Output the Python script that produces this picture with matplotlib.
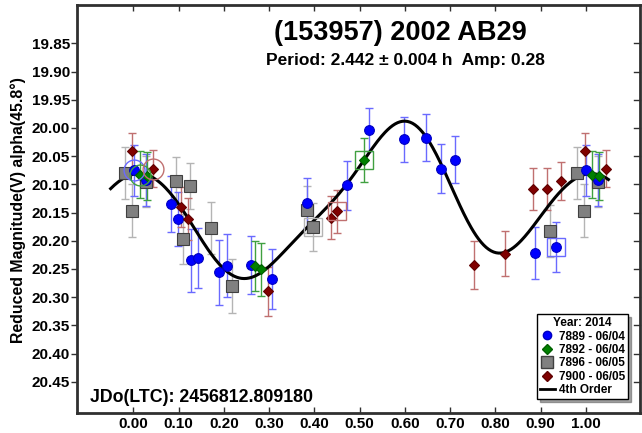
import numpy as np
import matplotlib
matplotlib.use("Agg")
import matplotlib.pyplot as plt
from matplotlib.lines import Line2D

plt.rcParams['font.family'] = ['Liberation Sans', 'DejaVu Sans']
plt.rcParams['font.weight'] = 'bold'

# session 7889 - 06/04 (blue)
ph_7889 = [0.001, 0.028, 0.083, 0.099, 0.128, 0.144, 0.190, 0.207, 0.260, 0.307,
           0.384, 0.473, 0.520, 0.598, 0.648, 0.679, 0.712, 0.888, 0.934]
mag_7889 = [20.075, 20.093, 20.135, 20.162, 20.235, 20.231, 20.256, 20.244, 20.243, 20.268,
            20.133, 20.102, 20.003, 20.020, 20.017, 20.072, 20.056, 20.222, 20.211]
err_7889 = [0.045, 0.046, 0.049, 0.048, 0.056, 0.053, 0.058, 0.056, 0.052, 0.053,
            0.044, 0.044, 0.038, 0.040, 0.041, 0.043, 0.041, 0.046, 0.044]

# session 7892 - 06/04 (green)
ph_7892 = [0.014, 0.030, 0.268, 0.282, 0.509]
mag_7892 = [20.083, 20.085, 20.245, 20.251, 20.056]
err_7892 = [0.042, 0.042, 0.044, 0.047, 0.039]

# session 7896 - 06/05 (gray)
ph_7896 = [0.028, 0.094, 0.109, 0.126, 0.172, 0.218, 0.383, 0.398, 0.920, 0.981, 0.997]
mag_7896 = [20.095, 20.094, 20.197, 20.103, 20.177, 20.281, 20.145, 20.176, 20.183, 20.080, 20.147]
err_7896 = [0.045, 0.042, 0.045, 0.041, 0.046, 0.048, 0.042, 0.042, 0.046, 0.046, 0.047]

# session 7900 - 06/05 (dark red)
ph_7900 = [0.044, 0.106, 0.122, 0.297, 0.436, 0.451, 0.752, 0.822, 0.883, 0.914, 0.945, 0.998]
mag_7900 = [20.072, 20.140, 20.162, 20.290, 20.159, 20.148, 20.243, 20.223, 20.108, 20.108, 20.094, 20.041]
err_7900 = [0.033, 0.036, 0.037, 0.044, 0.038, 0.038, 0.043, 0.040, 0.037, 0.037, 0.034, 0.032]

x_ticks = [0.0, 0.1, 0.2, 0.3, 0.4, 0.5, 0.6, 0.7, 0.8, 0.9, 1.0]
y_ticks = [19.85, 19.90, 19.95, 20.00, 20.05, 20.10, 20.15, 20.20, 20.25, 20.30, 20.35, 20.40, 20.45]

sessions = [
    # label, phases, mags, errs, marker, face, edge, bar colour, size, first/last marker phases
    ('7896 - 06/05', ph_7896, mag_7896, err_7896, 's', '#808080', '#404040', '#b4b4b4', 8, None, 0.398),
    ('7889 - 06/04', ph_7889, mag_7889, err_7889, 'o', '#0000ff', '#0000c0', '#6a6aff', 7, 0.001, 0.934),
    ('7892 - 06/04', ph_7892, mag_7892, err_7892, 'D', '#008000', '#006000', '#40a040', 5, 0.014, 0.509),
    ('7900 - 06/05', ph_7900, mag_7900, err_7900, 'D', '#800000', '#600000', '#c07070', 5.5, 0.044, 0.451),
]


def wrap(ph, mag, err, lo=-0.05, hi=1.05):
    ph = np.asarray(ph)
    out_p, out_m, out_e = [], [], []
    for off in (-1, 0, 1):
        p = ph + off
        keep = (p >= lo) & (p <= hi)
        out_p.append(p[keep])
        out_m.append(np.asarray(mag)[keep])
        out_e.append(np.asarray(err)[keep])
    return np.concatenate(out_p), np.concatenate(out_m), np.concatenate(out_e)


# 4th order Fourier fit to all points
all_p = np.concatenate([ph_7889, ph_7892, ph_7896, ph_7900])
all_m = np.concatenate([mag_7889, mag_7892, mag_7896, mag_7900])
all_e = np.concatenate([err_7889, err_7892, err_7896, err_7900])


def design(p, order=4):
    cols = [np.ones_like(p)]
    for k in range(1, order + 1):
        cols.append(np.cos(2 * np.pi * k * p))
        cols.append(np.sin(2 * np.pi * k * p))
    return np.column_stack(cols)


w = 1.0 / all_e
coef, *_ = np.linalg.lstsq(design(all_p) * w[:, None], all_m * w, rcond=None)
fit_x = np.linspace(-0.05, 1.05, 400)
fit_y = design(fit_x) @ coef

fig = plt.figure(figsize=(6.42, 4.33), dpi=100)
ax = fig.add_axes([0.1195, 0.0455, 0.8775, 0.943])

for label, ph, mag, err, mk, fc, ec, bc, ms, first, last in sessions:
    p, m, e = wrap(ph, mag, err)
    ax.errorbar(p, m, yerr=e, fmt='none', ecolor=bc, elinewidth=1.0, capsize=3, capthick=1.0, zorder=2)
    ax.plot(p, m, linestyle='none', marker=mk, markersize=ms, markerfacecolor=fc,
            markeredgecolor=ec, markeredgewidth=0.8, zorder=4)
    if first is not None:
        i = ph.index(first)
        ax.plot(first, mag[i], linestyle='none', marker='o', markersize=15, markerfacecolor='none',
                markeredgecolor=bc, markeredgewidth=1.0, zorder=5)
    if last is not None:
        i = ph.index(last)
        ax.plot(last, mag[i], linestyle='none', marker='s', markersize=13, markerfacecolor='none',
                markeredgecolor=bc, markeredgewidth=1.0, zorder=5)

ax.plot(fit_x, fit_y, color='black', linewidth=2.2, zorder=3)

ax.set_xlim(-0.125, 1.12)
ax.set_ylim(20.506, 19.782)
ax.set_xticks(x_ticks)
ax.set_xticklabels([f'{t:.2f}' for t in x_ticks])
ax.set_yticks(y_ticks)
ax.set_yticklabels([f'{t:.2f}' for t in y_ticks])
ax.tick_params(axis='x', direction='in', length=4, width=1, top=True, labelsize=11, pad=3, colors='#303030')
ax.tick_params(axis='y', left=True, right=False, direction='out', length=4, width=1,
               labelsize=11, pad=1, colors='#303030')
for t in ax.get_xticklabels() + ax.get_yticklabels():
    t.set_color('black')
    t.set_fontweight('bold')

# inward ticks on the right side
for t in y_ticks:
    ax.plot([1.0, 0.99], [t, t], transform=ax.get_yaxis_transform(), color='#303030', lw=1, clip_on=False)

for s in ax.spines.values():
    s.set_linewidth(2)
    s.set_color('#303030')

fig.text(0.623, 0.924, '(153957) 2002 AB29', ha='center', va='center', fontsize=19.5, fontweight='bold')
fig.text(0.631, 0.861, 'Period: 2.442 \u00b1 0.004 h  Amp: 0.28', ha='center', va='center',
         fontsize=12.5, fontweight='bold')
fig.text(0.14, 0.081, 'JDo(LTC): 2456812.809180', ha='left', va='center', fontsize=12.8, fontweight='bold')
fig.text(0.029, 0.515, 'Reduced Magnitude(V) alpha(45.8\u00b0)', ha='center', va='center',
         rotation=90, fontsize=11.4, fontweight='bold')

handles = [
    Line2D([], [], linestyle='none', marker='o', markersize=6, markerfacecolor='#0000ff', markeredgecolor='#0000c0'),
    Line2D([], [], linestyle='none', marker='D', markersize=5, markerfacecolor='#008000', markeredgecolor='#006000'),
    Line2D([], [], linestyle='none', marker='s', markersize=8, markerfacecolor='#808080', markeredgecolor='#404040'),
    Line2D([], [], linestyle='none', marker='D', markersize=5, markerfacecolor='#800000', markeredgecolor='#600000'),
    Line2D([], [], color='black', linewidth=2),
]
labels = ['7889 - 06/04', '7892 - 06/04', '7896 - 06/05', '7900 - 06/05', '4th Order']
leg = fig.legend(handles, labels, title='Year: 2014', loc='lower right', bbox_to_anchor=(0.978, 0.078),
                 fontsize=8.5, title_fontproperties={'weight': 'bold', 'size': 8.5},
                 frameon=True, fancybox=False, shadow=True, handlelength=1.3, handletextpad=0.3,
                 borderpad=0.25, labelspacing=0.12, borderaxespad=0)
leg.get_frame().set_edgecolor('black')
leg.get_frame().set_linewidth(1)
for t in leg.get_texts():
    t.set_fontweight('bold')

fig.savefig('out.png', dpi=100)
